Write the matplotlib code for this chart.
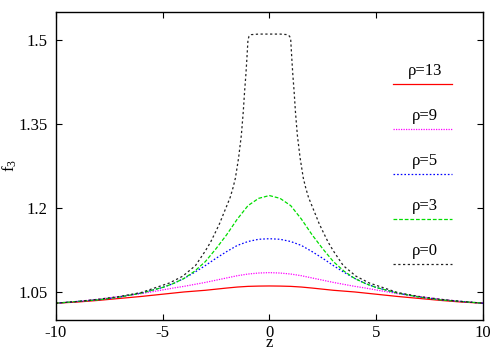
import matplotlib
matplotlib.use("Agg")
import matplotlib.pyplot as plt
from matplotlib.lines import Line2D

# ---- data ----
z_half_common = [0, 0.5, 1, 1.5, 2, 2.5, 3, 3.5, 4, 4.5, 5, 6, 7, 8, 9, 10]
f_rho3 = [1.222, 1.217, 1.204, 1.180, 1.152, 1.127, 1.104, 1.087, 1.074, 1.065, 1.058, 1.048, 1.041, 1.036, 1.033, 1.030]
f_rho5 = [1.145, 1.144, 1.140, 1.133, 1.122, 1.110, 1.097, 1.085, 1.074, 1.065, 1.058, 1.048, 1.041, 1.036, 1.033, 1.030]
f_rho9 = [1.0845, 1.0838, 1.082, 1.079, 1.075, 1.071, 1.067, 1.0635, 1.060, 1.057, 1.0536, 1.047, 1.042, 1.037, 1.033, 1.030]
f_rho13 = [1.0607, 1.0605, 1.060, 1.0588, 1.057, 1.055, 1.053, 1.0515, 1.050, 1.048, 1.046, 1.042, 1.0385, 1.035, 1.032, 1.030]

z_half_rho0 = [0, 0.5, 0.85, 0.95, 1.0, 1.05, 1.1, 1.16, 1.22, 1.31, 1.44, 1.59, 1.7, 1.83, 2.0, 2.14, 2.33, 2.53,
               2.75, 3.0, 3.46, 4.06, 4.68, 5.46, 6, 7, 8, 9, 10]
f_rho0 = [1.510, 1.510, 1.509, 1.506, 1.500, 1.467, 1.437, 1.407, 1.372, 1.330, 1.289, 1.253, 1.236, 1.219, 1.203,
          1.190, 1.172, 1.156, 1.139, 1.123, 1.097, 1.078, 1.066, 1.056, 1.049, 1.042, 1.037, 1.033, 1.030]

labels = ["ρ=13", "ρ=9", "ρ=5", "ρ=3", "ρ=0"]
xticks = [-10, -5, 0, 5, 10]
yticks = [1.05, 1.2, 1.35, 1.5]
ytick_labels = ["1.05", "1.2", "1.35", "1.5"]


def full(zh, fh):
    z = [-v for v in zh[::-1]] + zh[1:]
    f = fh[::-1] + fh[1:]
    return z, f


plt.rcParams['font.family'] = ['Liberation Serif', 'DejaVu Serif']
plt.rcParams['mathtext.fontset'] = 'custom'
plt.rcParams['mathtext.rm'] = 'Liberation Serif'
plt.rcParams['mathtext.it'] = 'Liberation Serif'

fig = plt.figure(figsize=(5, 3.5), dpi=100)
ax = fig.add_axes([0.1114, 0.0857, 0.8546, 0.881])

series = [
    (z_half_common, f_rho13, "#ff0000", "-"),
    (z_half_common, f_rho9, "#ff00ff", (0, (1, 1))),
    (z_half_common, f_rho5, "#0000ff", (0, (1.3, 1.6))),
    (z_half_common, f_rho3, "#00dd00", (0, (3, 1.5))),
    (z_half_rho0, f_rho0, "#222222", (0, (1.8, 2))),
]

for zh, fh, c, ls in series:
    z, f = full(zh, fh)
    ax.plot(z, f, color=c, linestyle=ls, linewidth=0.9)

ax.set_xlim(-10, 10)
ax.set_ylim(1.0, 1.55)
ax.set_xticks(xticks)
ax.set_xticklabels([str(v) for v in xticks])
ax.set_yticks(yticks)
ax.set_yticklabels(ytick_labels)
ax.tick_params(direction="in", length=4, width=0.8, top=True, right=True, labelsize=12, pad=6)
ax.tick_params(axis="x", pad=3.5)
for s in ax.spines.values():
    s.set_linewidth(1.0)

ax.set_xlabel("z", fontsize=12)
ax.set_ylabel("f$_\\mathregular{3}$", fontsize=12)
ax.xaxis.set_label_coords(0.5, -0.05)
ax.yaxis.set_label_coords(-0.087, 0.5)

# legend: text above short line sample
leg_y = [(320 - py) / 308.3 for py in [84.3, 129.3, 174.3, 219.3, 264.0]]
x0 = (393.3 - 55.7) / 427.3
x1 = (451.7 - 55.7) / 427.3
for (zh, fh, c, ls), lab, yy in zip(series, labels, leg_y):
    ax.add_line(Line2D([x0, x1], [yy, yy], transform=ax.transAxes, color=c, linestyle=ls, linewidth=0.9))
    ax.text((x0 + x1) / 2 + 0.006, yy + 0.016, lab, transform=ax.transAxes, ha="center", va="bottom", fontsize=12)

fig.savefig("out.png", dpi=100)
